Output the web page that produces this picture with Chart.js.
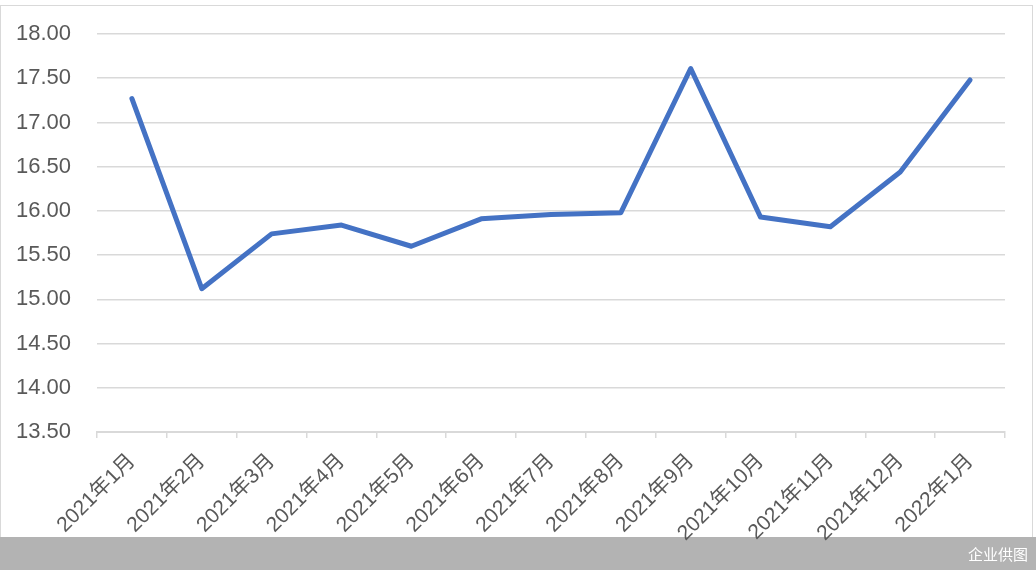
<!DOCTYPE html>
<html>
<head>
<meta charset="utf-8">
<script src="https://cdn.jsdelivr.net/npm/chart.js@4/dist/chart.umd.min.js"></script>
<style>
	html, body { margin: 0; padding: 0; background: #ffffff; }
	#wrap { position: relative; width: 1036px; height: 570px; overflow: hidden; }
	#frame { position: absolute; left: 0; top: 5px; width: 1033px; height: 570px; border: 1px solid #d9d9d9; box-sizing: border-box; }
	#band { position: absolute; left: 0; top: 537px; width: 1036px; height: 33px; background: #b3b3b3; }
	#chart { position: absolute; left: 0; top: 0; }
	#credit { position: absolute; right: 8px; top: 543px; color: #ffffff; font: 15px "Noto Sans CJK SC", sans-serif; }
</style>
</head>
<body>
<div id="wrap">
	<div id="frame"></div>
	<div id="band"></div>
	<canvas id="chart" width="1036" height="570"></canvas>
	<div id="credit">企业供图</div>
</div>
<script>
var months = ['2021年1月', '2021年2月', '2021年3月', '2021年4月', '2021年5月', '2021年6月', '2021年7月',
	'2021年8月', '2021年9月', '2021年10月', '2021年11月', '2021年12月', '2022年1月'];
var values = [17.27, 15.12, 15.74, 15.84, 15.60, 15.91, 15.96, 15.98, 17.61, 15.93, 15.82, 16.44, 17.48];

var yMin = 13.5;
var yMax = 18;
var yStep = 0.5;

var fontFamily = '"Liberation Sans", "Noto Sans CJK SC", sans-serif';

// eslint-disable-next-line no-undef
var chart = new Chart(document.getElementById('chart'), {
	type: 'line',
	data: {
		labels: months,
		datasets: [{
			data: values,
			borderColor: '#4472c4',
			borderWidth: 5,
			pointRadius: 0,
			tension: 0,
			borderCapStyle: 'round',
			borderJoinStyle: 'round'
		}]
	},
	options: {
		responsive: false,
		animation: false,
		layout: {
			padding: { left: 0, right: 31, top: 34, bottom: 0 }
		},
		plugins: {
			legend: { display: false },
			tooltip: { enabled: false }
		},
		scales: {
			x: {
				offset: true,
				grid: {
					offset: true,
					drawOnChartArea: false,
					color: '#d9d9d9',
					lineWidth: 1.5,
					tickLength: 6
				},
				border: { color: '#d9d9d9', width: 2 },
				ticks: {
					color: '#595959',
					font: { family: fontFamily, size: 21 },
					minRotation: 45,
					maxRotation: 45,
					autoSkip: false,
					padding: 11
				},
				afterFit: function(scale) { scale.height = 138; }
			},
			y: {
				min: yMin,
				max: yMax,
				grid: {
					color: '#d9d9d9',
					lineWidth: 1.5,
					drawTicks: true,
					tickLength: 20,
					tickColor: 'rgba(0,0,0,0)'
				},
				border: { display: false },
				ticks: {
					stepSize: yStep,
					color: '#595959',
					font: { family: fontFamily, size: 22 },
					padding: 6,
					callback: function(v) { return Number(v).toFixed(2); }
				},
				afterFit: function(scale) { scale.width = 97; }
			}
		}
	}
});
</script>
</body>
</html>
